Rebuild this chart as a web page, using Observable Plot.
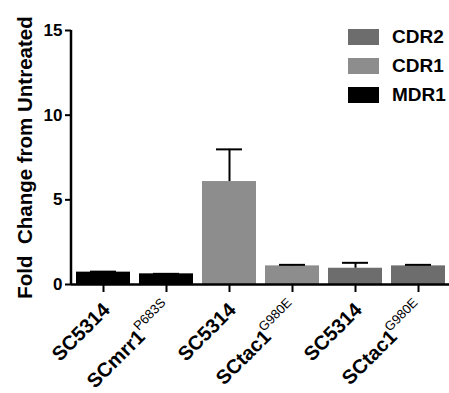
<!DOCTYPE html>
<html><head><meta charset="utf-8">
<script src="https://cdn.jsdelivr.net/npm/d3@7"></script>
<script src="https://cdn.jsdelivr.net/npm/@observablehq/plot@0.6"></script>
<style>
body{margin:0;background:#fff;font-family:"Liberation Sans",Arial,sans-serif;}
#wrap{position:relative;width:449px;height:393px;overflow:hidden;}
#legend{position:absolute;left:348px;top:22px;font-weight:bold;font-size:19px;color:#000;}
#legend .row{display:flex;align-items:center;height:29px;}
#legend .sw{width:31px;height:16px;margin-right:13px;}
</style></head>
<body><div id="wrap"><div id="legend"></div></div>
<script>
const keys = ["a","b","c","d","e","f"];
const strains = ["SC5314","SCmrr1","SC5314","SCtac1","SC5314","SCtac1"];
const superscripts = ["","P683S","","G980E","","G980E"];
const genes = ["MDR1","MDR1","CDR1","CDR1","CDR2","CDR2"];
const means = [0.73,0.63,6.08,1.1,0.96,1.1];
const errors = [0.03,0.0,1.9,0.06,0.32,0.06];
const legendGenes = ["CDR2","CDR1","MDR1"];
const geneColors = {MDR1:"#000000", CDR1:"#8d8d8d", CDR2:"#6d6d6d"};
const yTicks = [0,5,10,15];
const yLabel = "Fold  Change from Untreated";

const data = keys.map((k,i)=>({key:k, strain:strains[i], sup:superscripts[i], gene:genes[i], mean:means[i], top:means[i]+errors[i]}));
const plain = data.filter(d=>!d.sup);
const withSup = data.filter(d=>d.sup);

const plot = Plot.plot({
  width:449, height:393,
  marginLeft:71, marginRight:0, marginTop:30, marginBottom:109,
  style:{fontFamily:"'Liberation Sans', Arial, sans-serif", fontWeight:"bold", color:"#000", background:"#fff", overflow:"visible"},
  x:{domain:keys, paddingInner:0.15, paddingOuter:0.05},
  y:{domain:[0,15]},
  color:{domain:Object.keys(geneColors), range:Object.values(geneColors)},
  marks:[
    Plot.barY(data,{x:"key", y:"mean", fill:"gene"}),
    Plot.ruleX(data.filter(d=>d.top>d.mean),{x:"key", y1:"mean", y2:"top", stroke:"#000", strokeWidth:2}),
    Plot.tickY(data,{x:"key", y:"top", stroke:"#000", strokeWidth:2, insetLeft:14, insetRight:14}),
    Plot.axisY({ticks:yTicks, tickSize:6, tickPadding:3, strokeWidth:2, fontSize:17, label:null}),
    Plot.text([yLabel],{frameAnchor:"left", textAnchor:"middle", rotate:-90, dx:-46, fontSize:20.5, fontWeight:"bold", fill:"#000"}),
    Plot.axisX({tickSize:8, strokeWidth:2, tickFormat:()=>"", label:null}),
    // strain labels without superscript
    Plot.text(plain,{x:"key", y:()=>0, text:"strain", rotate:-45, textAnchor:"end", fontSize:20, fontWeight:"bold", fill:"#000", dx:3, dy:22}),
    // strain labels followed by a superscript
    Plot.text(withSup,{x:"key", y:()=>0, text:"strain", rotate:-45, textAnchor:"end", fontSize:20, fontWeight:"bold", fill:"#000", dx:-25, dy:49}),
    Plot.text(withSup,{x:"key", y:()=>0, text:"sup", rotate:-45, textAnchor:"end", fontSize:13, fontWeight:"normal", fill:"#000", dx:-3, dy:16}),
    Plot.ruleY([0],{stroke:"#000", strokeWidth:2.5})
  ]
});
document.getElementById("wrap").prepend(plot);

const svg = d3.select(plot);
const ys = plot.scale("y");
svg.append("line").attr("x1",71).attr("x2",71).attr("y1",ys.apply(15)).attr("y2",ys.apply(0)+1)
  .attr("stroke","#000").attr("stroke-width",2.5);

// legend
const lg = d3.select("#legend");
legendGenes.forEach(g=>{
  const r = lg.append("div").attr("class","row");
  r.append("div").attr("class","sw").style("background",geneColors[g]);
  r.append("span").text(g);
});
</script></body></html>
